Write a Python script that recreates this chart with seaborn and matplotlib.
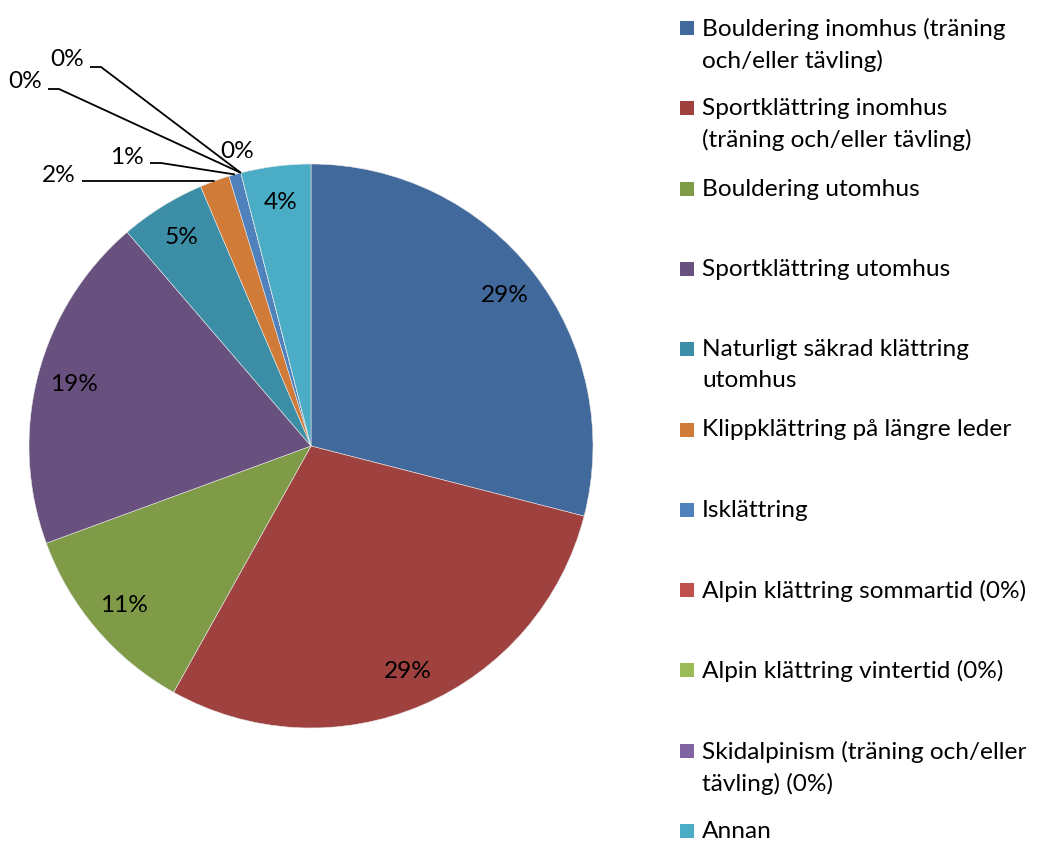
import matplotlib
matplotlib.use("Agg")
import matplotlib.pyplot as plt
import seaborn as sns
import numpy as np
from matplotlib.patches import Rectangle

sns.set_theme(style="white")
plt.rcParams['font.family'] = ['Lato', 'DejaVu Sans']

categories = [
    "Bouldering inomhus (träning\noch/eller tävling)",
    "Sportklättring inomhus\n(träning och/eller tävling)",
    "Bouldering utomhus",
    "Sportklättring utomhus",
    "Naturligt säkrad klättring\nutomhus",
    "Klippklättring på längre leder",
    "Isklättring",
    "Alpin klättring sommartid (0%)",
    "Alpin klättring vintertid (0%)",
    "Skidalpinism (träning och/eller\ntävling) (0%)",
    "Annan",
]
values = [29.0, 29.1, 11.3, 19.3, 4.9, 1.7, 0.7, 0.0, 0.0, 0.0, 4.0]
colors = ["#42699B", "#9E413F", "#7F9B48", "#69517F", "#3B8EA5", "#D07C38",
          "#4F81BD", "#C0504D", "#9BBB59", "#8064A2", "#4BACC6"]

W, H = 1037, 843
FS = 17.6

fig = plt.figure(figsize=(W / 100, H / 100), dpi=100)
ax = fig.add_axes([0, 0, 1, 1])

cx, cy, R = 311, 446, 282
wedges, texts, autotexts = ax.pie(
    values, colors=colors, startangle=90, counterclock=False,
    center=(cx, H - cy), radius=R, autopct='%.0f%%', pctdistance=0.87,
    frame=True, wedgeprops=dict(linewidth=0.4, edgecolor="#e8e8e8"),
    textprops=dict(fontsize=FS, color="black"))
ax.set_xlim(0, W)
ax.set_ylim(0, H)
ax.set_aspect('equal')
ax.axis('off')

# outside labels for the small slices (layout positions in pixels, top-down)
label_pos = {5: (59, 176), 6: (127, 157), 7: (25, 82), 8: (67, 60), 9: (237, 152)}
line_start = {5: (82, 181), 6: (150, 163), 7: (48, 89), 8: (90, 67)}
for i, (lx, ly) in label_pos.items():
    autotexts[i].set_position((lx, H - ly))
    autotexts[i].set_ha('center')
    autotexts[i].set_va('center')
for i, (sx, sy) in line_start.items():
    w = wedges[i]
    th = np.deg2rad((w.theta1 + w.theta2) / 2)
    ex, ey = cx + R * np.cos(th), (H - cy) + R * np.sin(th)
    kx = sx + 11
    ax.plot([sx, kx, ex], [H - sy, H - sy, ey], color="black", lw=1.3,
            solid_capstyle='butt')

# legend (manual, Excel-like even spacing)
y0, pitch = 28, 80.3
for i, (lab, col) in enumerate(zip(categories, colors)):
    yc = y0 + i * pitch
    ax.add_patch(Rectangle((680, H - yc - 7), 14, 14, facecolor=col,
                           edgecolor="none"))
    ax.text(702, H - yc + 10, lab, fontsize=FS, va='top', ha='left',
            linespacing=1.55, color="black")

fig.savefig("out.png", dpi=100)
